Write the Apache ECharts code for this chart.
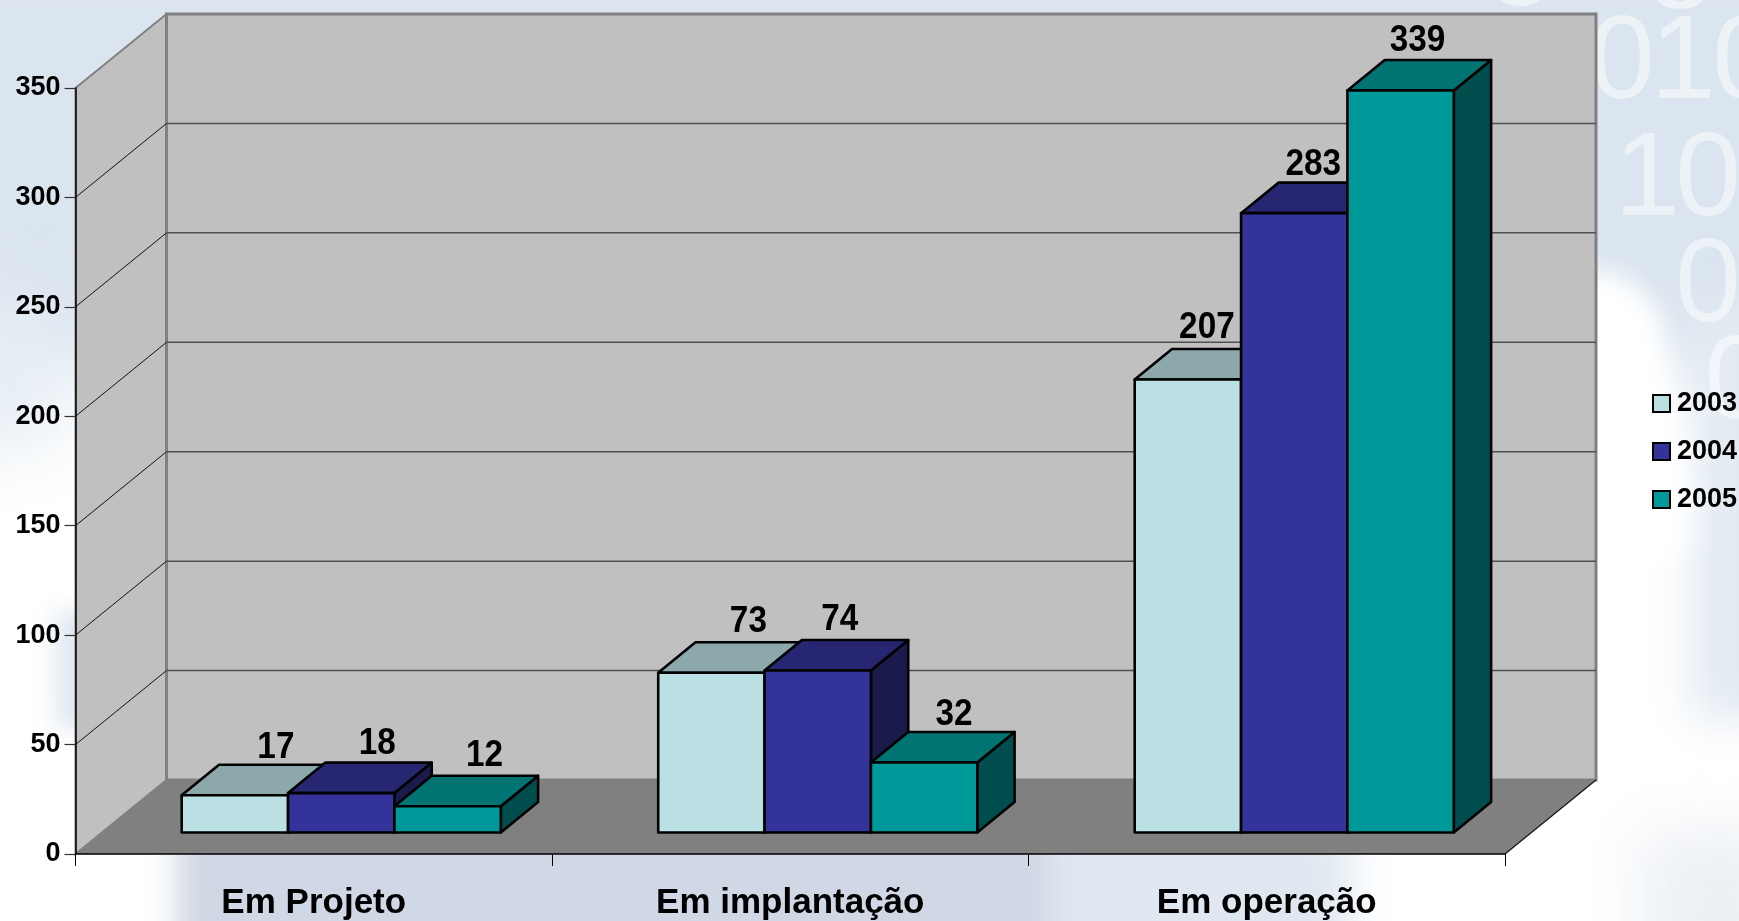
<!DOCTYPE html>
<html>
<head>
<meta charset="utf-8">
<title>Em Projeto, Em implantação, Em operação</title>
<script src="https://cdn.jsdelivr.net/npm/echarts@6/dist/echarts.min.js"></script>
<style>
html,body{margin:0;padding:0;width:1739px;height:921px;overflow:hidden;background:#fff}
#bg{position:absolute;left:0;top:0;width:1739px;height:921px;overflow:hidden;background:#ffffff}
#bg div{position:absolute}
#chart{position:absolute;left:0;top:0;width:1739px;height:921px}
</style>
</head>
<body>
<div id="bg">
  <div style="left:-60px;top:-60px;width:1900px;height:430px;background:#dbe5ef;filter:blur(35px)"></div>
  <div style="left:-60px;top:300px;width:120px;height:150px;background:#e6edf4;filter:blur(35px)"></div>
  <div style="left:56px;top:610px;width:60px;height:120px;background:#e0e7f0;filter:blur(12px)"></div>
  <div style="left:1040px;top:820px;width:310px;height:150px;background:#dfe7f0;filter:blur(22px)"></div>
  <div style="left:176px;top:810px;width:880px;height:160px;background:#d1d8e5;filter:blur(14px)"></div>
  <div style="left:1690px;top:300px;width:120px;height:420px;background:#e3eaf2;filter:blur(22px)"></div>
  <div style="left:1640px;top:830px;width:160px;height:160px;background:#ecf0f5;filter:blur(30px)"></div>
  <div style="left:1590px;top:265px;width:85px;height:300px;background:#fff;border-radius:10px 80px 40px 0;filter:blur(12px);transform:rotate(-8deg)"></div>
</div>
<div id="chart"></div>
<script>
const categories = ['Em Projeto', 'Em implantação', 'Em operação'];
const years = ['2003', '2004', '2005'];
const values2003 = [17, 73, 207];
const values2004 = [18, 74, 283];
const values2005 = [12, 32, 339];
const yTicks = [0, 50, 100, 150, 200, 250, 300, 350];

const seriesValues = [values2003, values2004, values2005];
const palette = [
  {front:'#BBE0E3', top:'#8DA8AA', side:'#5E7072'},
  {front:'#333399', top:'#262673', side:'#1A1A4D'},
  {front:'#009999', top:'#007373', side:'#004D4D'}
];
const WALL_DX = 91, WALL_DY = -74;       // depth of the chart box
const BAR_DX = 37.3, BAR_DY = -30.5;     // depth of one bar
const INSET_DX = 27.5, INSET_DY = -21.5; // bars sit inside the floor
const labelShift = [[41,36,37],[37,22,30],[19,19,17]]; // label x beyond the bar's front centre
const labelLift = [17,19,20,20,20,17,21,18,19];

function wallsItem(params, api) {
  const r = params.coordSys;
  const L = r.x, R = r.x + r.width, T = r.y, B = r.y + r.height;
  const kids = [];
  kids.push({type:'polygon', shape:{points:[[L,T],[L+WALL_DX,T+WALL_DY],[L+WALL_DX,B+WALL_DY],[L,B]]},
    style:{fill:'#C0C0C0', stroke:'#808080', lineWidth:2}});
  kids.push({type:'rect', shape:{x:L+WALL_DX,y:T+WALL_DY,width:r.width,height:r.height},
    style:{fill:'#C0C0C0', stroke:'#808080', lineWidth:3}});
  kids.push({type:'polygon', shape:{points:[[L,B],[L+WALL_DX,B+WALL_DY],[R+WALL_DX,B+WALL_DY],[R,B]]},
    style:{fill:'#808080'}});
  yTicks.forEach(t => {
    if (t === 0 || t === 350) return;
    const y = api.coord([0, t])[1];
    kids.push({type:'line', shape:{x1:L,y1:y,x2:L+WALL_DX,y2:y+WALL_DY}, style:{stroke:'#111', lineWidth:1}});
    kids.push({type:'line', shape:{x1:L+WALL_DX,y1:y+WALL_DY,x2:R+WALL_DX,y2:y+WALL_DY}, style:{stroke:'#505050', lineWidth:1.5}});
  });
  kids.push({type:'line', shape:{x1:R,y1:B,x2:R+WALL_DX,y2:B+WALL_DY}, style:{stroke:'#111', lineWidth:1.2}});
  return {type:'group', children:kids};
}

function barItem(s) {
  return function (params, api) {
    const cat = api.value(0), val = api.value(1);
    const band = api.size([1, 0])[0];
    const w = band / 4.48;
    const p0 = api.coord([cat, 0]);
    const p1 = api.coord([cat, val]);
    const x0 = p0[0] - 1.5 * w + s * w + INSET_DX;
    const x1 = x0 + w;
    const yB = p0[1] + INSET_DY;
    const yT = p1[1] + INSET_DY;
    const edge = {stroke:'#000', lineWidth:2.6, lineJoin:'round'};
    const c = palette[s];
    const idx = cat * 3 + s;
    return {type:'group', children:[
      {type:'polygon', shape:{points:[[x1,yT],[x1+BAR_DX,yT+BAR_DY],[x1+BAR_DX,yB+BAR_DY],[x1,yB]]},
        style:Object.assign({fill:c.side}, edge)},
      {type:'polygon', shape:{points:[[x0,yT],[x0+BAR_DX,yT+BAR_DY],[x1+BAR_DX,yT+BAR_DY],[x1,yT]]},
        style:Object.assign({fill:c.top}, edge)},
      {type:'rect', shape:{x:x0,y:yT,width:w,height:yB-yT},
        style:Object.assign({fill:c.front}, edge)},
      {type:'text', z2:50, x:(x0+x1)/2 + labelShift[cat][s], y:yT + BAR_DY - labelLift[idx], scaleX:0.9,
        style:{text:String(val), fill:'#000', font:'bold 37px "Liberation Sans", Arial, sans-serif', align:'center', verticalAlign:'middle'}}
    ]};
  };
}

const digits = [['0',1622,65],['1',1683,65],['0',1745,65],['1',1647,182],['0',1708,182],['0',1708,288],['0',1737,385],['8',1520,-28],['8',1680,-25]];

const chart = echarts.init(document.getElementById('chart'), null, {renderer:'canvas'});
chart.setOption({
  animation:false,
  backgroundColor:'transparent',
  textStyle:{fontFamily:'"Liberation Sans", Arial, sans-serif'},
  graphic:digits.map(d => ({type:'text', z:-10, silent:true, x:d[1], y:d[2],
    style:{text:d[0], fill:'rgba(255,255,255,0.5)', font:'normal 118px "Liberation Sans", Arial, sans-serif', align:'center', verticalAlign:'middle'}})),
  grid:{left:75.5, right:234, top:88, bottom:65, containLabel:false},
  legend:{
    orient:'vertical', left:1647, top:385, itemWidth:17, itemHeight:17, itemGap:21, icon:'rect',
    data:years, selectedMode:false,
    textStyle:{fontSize:27, fontWeight:'bold', color:'#000', fontFamily:'"Liberation Sans", Arial, sans-serif', padding:[0,0,0,2]}
  },
  xAxis:{
    type:'category', data:categories, z:10,
    axisLine:{show:true, lineStyle:{color:'#000', width:1.5}},
    axisTick:{show:true, length:12, lineStyle:{color:'#000', width:1}},
    axisLabel:{fontSize:35, fontWeight:'bold', color:'#000', margin:32, fontFamily:'"Liberation Sans", Arial, sans-serif'},
    splitLine:{show:false}
  },
  yAxis:{
    type:'value', min:0, max:350, interval:50, z:10,
    axisLine:{show:true, lineStyle:{color:'#000', width:1.5}},
    axisTick:{show:true, length:11, lineStyle:{color:'#333', width:1.2}},
    axisLabel:{fontSize:27, fontWeight:'bold', color:'#000', margin:15, formatter:'{value}', fontFamily:'"Liberation Sans", Arial, sans-serif'},
    splitLine:{show:false}
  },
  series:[
    {type:'custom', name:'walls', z:1, silent:true, renderItem:wallsItem, data:[[0,0]], encode:{x:0,y:1}}
  ].concat(years.map((y, s) => ({
    type:'custom', name:y, z:3 + s, silent:true, renderItem:barItem(s),
    itemStyle:{color:palette[s].front, borderColor:'#000', borderWidth:2},
    data:seriesValues[s].map((v, i) => [i, v]),
    encode:{x:0, y:1}
  })))
});
</script>
</body>
</html>
